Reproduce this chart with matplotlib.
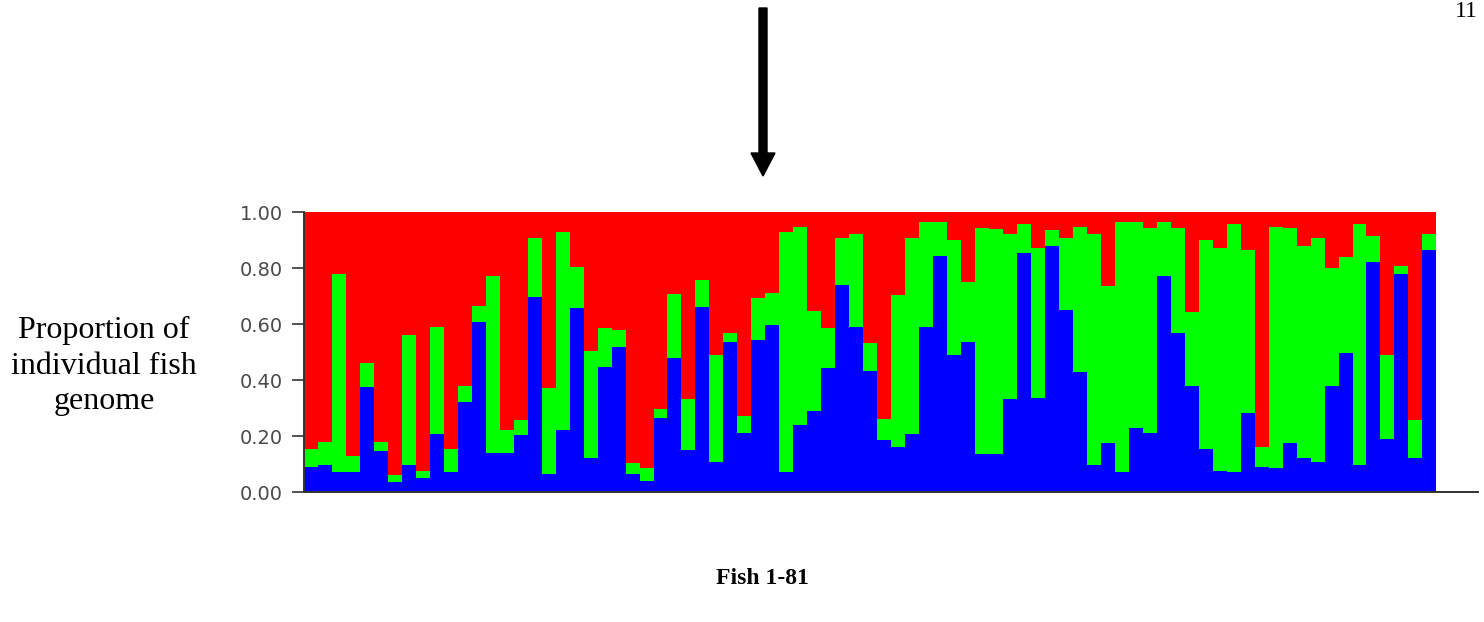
#! /usr/bin/env python3

""" Structure-style admixture bar plot, one stacked bar per fish.
"""

import numpy as np
from matplotlib import pyplot as plt
from matplotlib.patches import FancyArrow

# proportion of each fish genome per cluster (fish 1-81)
blue = [0.09, 0.096, 0.073, 0.07, 0.376, 0.146, 0.035, 0.096, 0.05, 0.206,
        0.073, 0.32, 0.608, 0.138, 0.138, 0.204, 0.698, 0.063, 0.221, 0.656,
        0.12, 0.448, 0.519, 0.063, 0.04, 0.263, 0.477, 0.15, 0.662, 0.108,
        0.537, 0.21, 0.543, 0.596, 0.07, 0.239, 0.289, 0.444, 0.739, 0.59,
        0.433, 0.186, 0.162, 0.206, 0.59, 0.843, 0.489, 0.537, 0.135, 0.135,
        0.332, 0.852, 0.334, 0.88, 0.65, 0.43, 0.096, 0.174, 0.07, 0.23,
        0.21, 0.771, 0.567, 0.38, 0.154, 0.075, 0.07, 0.281, 0.09, 0.085,
        0.174, 0.12, 0.108, 0.38, 0.495, 0.096, 0.823, 0.19, 0.779, 0.12,
        0.864]
green = [0.064, 0.084, 0.707, 0.06, 0.084, 0.034, 0.025, 0.464, 0.025, 0.382,
         0.081, 0.06, 0.057, 0.635, 0.083, 0.053, 0.21, 0.307, 0.709, 0.149,
         0.384, 0.137, 0.06, 0.039, 0.045, 0.033, 0.231, 0.182, 0.095, 0.381,
         0.03, 0.06, 0.149, 0.114, 0.857, 0.709, 0.357, 0.141, 0.167, 0.33,
         0.098, 0.074, 0.542, 0.7, 0.373, 0.12, 0.411, 0.212, 0.807, 0.804,
         0.588, 0.104, 0.536, 0.056, 0.258, 0.518, 0.824, 0.563, 0.893, 0.733,
         0.732, 0.192, 0.375, 0.262, 0.746, 0.795, 0.886, 0.583, 0.072, 0.863,
         0.768, 0.76, 0.798, 0.42, 0.345, 0.86, 0.092, 0.299, 0.029, 0.137,
         0.056]
yticks = [0.0, 0.2, 0.4, 0.6, 0.8, 1.0]
ytick_labels = ["0.00", "0.20", "0.40", "0.60", "0.80", "1.00"]

blue = np.array(blue)
green = np.array(green)
red = 1.0 - blue - green  # remainder goes to the third cluster
fish = np.arange(len(blue))

fig = plt.figure(figsize=(14.84, 6.22), dpi=100)
ax = fig.add_axes([304 / 1484, 130 / 622, 1174 / 1484, 280 / 622])

# stacked bars, no gaps between fish
ax.bar(fish, blue, width=1.0, color="#0000ff", linewidth=0)
ax.bar(fish, green, width=1.0, bottom=blue, color="#00ff00", linewidth=0)
ax.bar(fish, red, width=1.0, bottom=blue + green, color="#ff0000", linewidth=0)

ax.set_xlim(-0.5, -0.5 + 1174 / 13.98)
ax.set_ylim(0, 1.0)
ax.set_xticks([])
ax.set_yticks(yticks)
ax.set_yticklabels(ytick_labels, fontsize=14, color="#4a4a4a",
                   family="DejaVu Sans")
ax.tick_params(axis="y", direction="out", length=9, width=1.2,
               color="#333333", pad=6)
for side in ("top", "right"):
    ax.spines[side].set_visible(False)
for side in ("left", "bottom"):
    ax.spines[side].set_color("#333333")
    ax.spines[side].set_linewidth(1.4)

# labels in document serif font
fig.text(104 / 1484, 1 - 366 / 622,
         "Proportion of\nindividual fish\ngenome",
         ha="center", va="center", multialignment="center",
         fontsize=23, family="Liberation Serif", linespacing=1.3)
fig.text(762 / 1484, 1 - 578 / 622, "Fish 1-81",
         ha="center", va="center", fontsize=17, fontweight="bold",
         family="Liberation Serif")
fig.text(1466 / 1484, 1 - 17 / 622, "11", ha="center", va="baseline",
         fontsize=17, family="Liberation Serif")

# arrow pointing down at the plot
arrow = FancyArrow(763 / 1484, 1 - 8 / 622, 0, -(168 / 622),
                   width=8 / 1484, head_width=24 / 1484,
                   head_length=23 / 622, length_includes_head=True,
                   color="black", transform=fig.transFigure)
fig.patches.append(arrow)

fig.savefig("out.png", dpi=100)
